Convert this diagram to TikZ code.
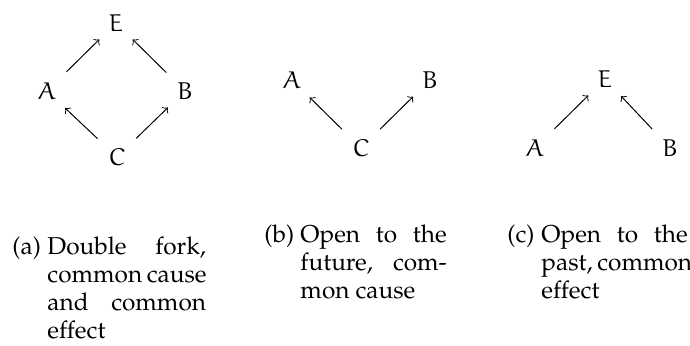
\documentclass[tikz,border=0pt]{standalone}
\usepackage[T1]{fontenc}
\usepackage{mathpazo}
\newcommand{\eu}[1]{{\usefont{U}{eur}{m}{n}#1}}
\tikzset{
  var/.style={circle, inner sep=3.4pt},
  link/.style={->, shorten <=1pt},
  sublabel/.style={anchor=base west, inner sep=0pt, font=\fontsize{10}{11.35}\selectfont},
  subcap/.style={sublabel, align=justify},
}
\begin{document}
\begin{tikzpicture}[x=0.41pt,y=-0.41pt]
\useasboundingbox (0,0) rectangle (690,346);
% (a) double fork
\node[var] (ea) at (116,23) {\eu{E}};
\node[var] (aa) at (47,91) {\eu{A}};
\node[var] (ba) at (185,91) {\eu{B}};
\node[var] (ca) at (117,157) {\eu{C}};
\draw[link] (aa) -- (ea);
\draw[link] (ba) -- (ea);
\draw[link] (ca) -- (aa);
\draw[link] (ca) -- (ba);
% (b) common cause
\node[var] (ab) at (292,80) {\eu{A}};
\node[var] (bb) at (430,80) {\eu{B}};
\node[var] (cb) at (361,148) {\eu{C}};
\draw[link] (cb) -- (ab);
\draw[link] (cb) -- (bb);
% (c) common effect
\node[var] (ec) at (605,79) {\eu{E}};
\node[var] (ac) at (535,148) {\eu{A}};
\node[var] (bc) at (670,148) {\eu{B}};
\draw[link] (ac) -- (ec);
\draw[link] (bc) -- (ec);
% captions
\node[sublabel] (laba) at (12,255) {(a)};
\node[subcap, text width=65pt] (capa) at (47,255)
  {Double fork,\linebreak common~cause\linebreak and common\linebreak effect};
\node[sublabel] (labb) at (264,243) {(b)};
\node[subcap, text width=60pt] (capb) at (300,243)
  {Open to the\linebreak future, com-\linebreak mon~cause};
\node[sublabel] (labc) at (507,243) {(c)};
\node[subcap, text width=60pt] (capc) at (541,243)
  {Open to the\linebreak past,~\mbox{common}\linebreak effect};
\end{tikzpicture}
\end{document}
